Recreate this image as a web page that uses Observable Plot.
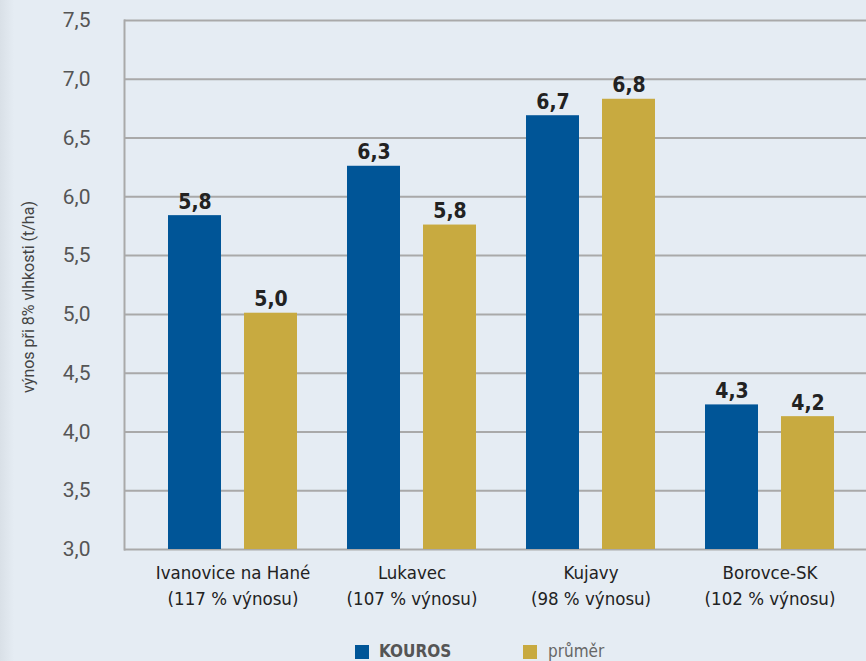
<!DOCTYPE html>
<html>
<head>
<meta charset="utf-8">
<script src="https://cdn.jsdelivr.net/npm/d3@7"></script>
<script src="https://cdn.jsdelivr.net/npm/@observablehq/plot@0.6"></script>
<style>
  html, body { margin: 0; padding: 0; }
  body {
    width: 866px; height: 661px; overflow: hidden;
    background: linear-gradient(to right, #d9e0e7 0px, #e5ecf3 14px, #e5ecf3 100%);
    font-family: "Liberation Sans Narrow", "DejaVu Sans Condensed", Roboto, sans-serif;
  }
  #legend { position: relative; height: 29px; }
  #legend .sw { position: absolute; top: 13px; width: 14px; height: 14px; }
  #legend .lb { position: absolute; top: 11px; font-size: 17px; line-height: 17px; }
</style>
</head>
<body>
<div id="chart"></div>
<div id="legend">
  <div class="sw" style="left:355px;background:#005597"></div>
  <div class="lb" style="left:379px;font-weight:bold;color:#555">KOUROS</div>
  <div class="sw" style="left:523px;background:#c8aa40"></div>
  <div class="lb" style="left:548px;color:#666">průměr</div>
</div>
<script>
const categories = ["Ivanovice na Hané", "Lukavec", "Kujavy", "Borovce-SK"];
const relativeYield = ["117 % výnosu", "107 % výnosu", "98 % výnosu", "102 % výnosu"];
const kourosValues = [5.84, 6.26, 6.69, 4.23];
const prumerValues = [5.01, 5.76, 6.83, 4.13];
const kourosLabels = ["5,8", "6,3", "6,7", "4,3"];
const prumerLabels = ["5,0", "5,8", "6,8", "4,2"];
const yTicks = [3, 3.5, 4, 4.5, 5, 5.5, 6, 6.5, 7, 7.5];
const yLabel = "výnos při 8% vlhkosti (t/ha)";

const kouros = categories.map((c, i) => ({cat: c, value: kourosValues[i], label: kourosLabels[i]}));
const prumer = categories.map((c, i) => ({cat: c, value: prumerValues[i], label: prumerLabels[i]}));
const catLabel = new Map(categories.map((c, i) => [c, c + "\n(" + relativeYield[i] + ")"]));

const BLUE = "#005597", GOLD = "#c8aa40";
const FONT = '"Liberation Sans Narrow", "DejaVu Sans Condensed", Roboto, sans-serif';

const chart = Plot.plot({
  width: 866,
  height: 632,
  marginTop: 20,
  marginBottom: 83,
  marginLeft: 124,
  marginRight: 0,
  style: {background: "transparent", fontFamily: FONT, overflow: "visible"},
  x: {domain: categories, paddingInner: 0.2766, paddingOuter: 0.2028, align: 0.58},
  y: {domain: [3, 7.5]},
  marks: [
    Plot.ruleY(yTicks, {stroke: "#a9a9a9", strokeWidth: 2}),
    Plot.frame({anchor: "left", stroke: "#a9a9a9", strokeWidth: 2}),
    Plot.barY(kouros, {x: "cat", y1: 3, y2: "value", fill: BLUE, insetRight: 76}),
    Plot.barY(prumer, {x: "cat", y1: 3, y2: "value", fill: GOLD, insetLeft: 76}),
    Plot.text(kouros, {x: "cat", y: "value", text: "label", dx: -38, dy: -7, lineAnchor: "bottom",
      fontSize: 21, fontWeight: "bold", fill: "#222"}),
    Plot.text(prumer, {x: "cat", y: "value", text: "label", dx: 38, dy: -7, lineAnchor: "bottom",
      fontSize: 21, fontWeight: "bold", fill: "#222"}),
    Plot.axisY({ticks: yTicks, tickSize: 0, tickPadding: 34, label: null,
      tickFormat: d => d.toFixed(1).replace(".", ","), fontSize: 21, fill: "#555",
      fontFamily: "Roboto, sans-serif"}),
    Plot.axisX({tickSize: 0, tickPadding: 12, label: null, fontSize: 18.5, lineHeight: 1.36,
      fill: "#222", tickFormat: d => catLabel.get(d)}),
    Plot.text([yLabel], {frameAnchor: "left", textAnchor: "middle", rotate: -90, dx: -96, dy: 12,
      fontSize: 16, fill: "#444", fontFamily: "Roboto, sans-serif"})
  ]
});
document.getElementById("chart").appendChild(chart);
</script>
</body>
</html>
